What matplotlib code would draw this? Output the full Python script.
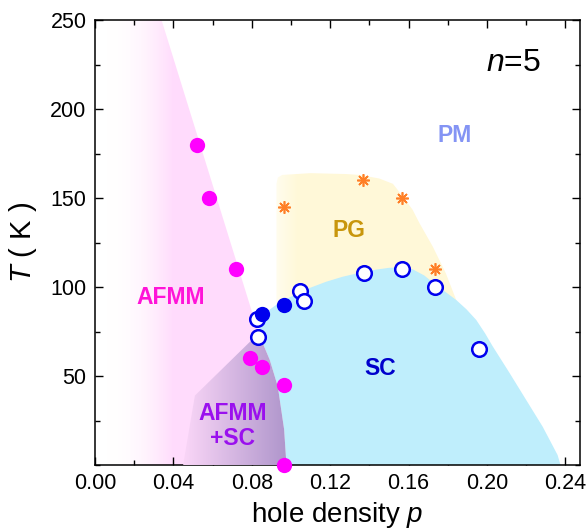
import numpy as np
import matplotlib
matplotlib.use("Agg")
import matplotlib.pyplot as plt
from matplotlib.patches import Polygon
from matplotlib.ticker import MultipleLocator

plt.rcParams['font.family'] = ['Liberation Sans', 'DejaVu Sans']
plt.rcParams['mathtext.fontset'] = 'custom'
plt.rcParams['mathtext.it'] = 'Liberation Sans:italic'
plt.rcParams['mathtext.rm'] = 'Liberation Sans'

# measured points
afm_p = [0.052, 0.058, 0.0718, 0.079, 0.085, 0.0963, 0.0965]
afm_T = [180, 150, 110, 60, 55, 45, 0]
sc_fill_p = [0.0853, 0.0965]
sc_fill_T = [85, 90]
sc_open_p = [0.0827, 0.083, 0.1048, 0.1065, 0.137, 0.1565, 0.1734, 0.196]
sc_open_T = [82, 72, 98, 92, 108, 110, 100, 65]
pg_p = [0.0965, 0.1367, 0.1566, 0.1736]
pg_T = [145, 160, 150, 110]

# phase boundaries (p, T)
afm_edge_p = [0.0, 0.0, 0.034, 0.0835, 0.0977]
afm_edge_T = [0, 250, 250, 74, 0]
mix_edge_p = [0.045, 0.051, 0.0835, 0.0850, 0.0892, 0.0933, 0.0965, 0.0977]
mix_edge_T = [0, 39, 74, 70, 59, 44, 20, 0]
sc_edge_p = [0.0977, 0.0965, 0.0933, 0.0892, 0.0850, 0.0840, 0.0855, 0.0875, 0.095,
             0.1028, 0.1096, 0.118, 0.1264, 0.135, 0.1435, 0.150, 0.156, 0.162,
             0.168, 0.1724, 0.1785, 0.1843, 0.1895, 0.1945, 0.199, 0.203, 0.2115,
             0.22, 0.2284, 0.236, 0.2375]
sc_edge_T = [0, 20, 44, 59, 70, 77, 82, 86, 92, 96, 99.5, 103, 105.8, 108, 109.8,
             110.8, 111, 110, 106.5, 102.5, 97.5, 92.7, 87.5, 81.5, 74, 66.5, 51.7,
             36.5, 21.5, 5.6, 0]
pg_edge_p = [0.0926, 0.0926, 0.0933, 0.0955, 0.11, 0.128, 0.135, 0.145, 0.152,
             0.157, 0.162, 0.1656, 0.1724, 0.179, 0.1843, 0.186, 0.15, 0.0926]
pg_edge_T = [85, 158, 161.5, 163, 164, 163.5, 163, 161, 158, 151, 143.5, 135.8,
             122.6, 107.7, 92.7, 85, 80, 85]

labels = ['PM', 'PG', 'AFMM', 'SC', 'AFMM\n+SC']
label_p = [0.1834, 0.1294, 0.0387, 0.1457, 0.0703]
label_T = [185, 132, 94, 54.5, 22]
label_c = ['#8494f4', '#c8960c', '#ff14d8', '#0000cc', '#9a10ee']

fig = plt.figure(figsize=(5.86, 5.29), dpi=100)
ax = fig.add_axes([0.162, 0.121, 0.828, 0.841])
ax.set_xlim(0, 0.2475)
ax.set_ylim(0, 250)


def grad_fill(ax, px, py, x0, x1, c0, c1, z):
    poly = Polygon(np.column_stack([px, py]), closed=True, facecolor='none',
                   edgecolor='none', transform=ax.transData)
    ax.add_patch(poly)
    xs = np.linspace(0, 0.2475, 600)
    f = np.clip((xs - x0) / (x1 - x0), 0, 1)[:, None]
    c0 = np.array(c0)
    c1 = np.array(c1)
    row = c0 + (c1 - c0) * f
    img = np.repeat(row[None, :, :], 2, axis=0)
    im = ax.imshow(img, extent=[0, 0.2475, 0, 250], aspect='auto',
                   origin='lower', zorder=z, interpolation='bilinear')
    im.set_clip_path(poly)


pink = (1.0, 0.86, 0.99, 1.0)
grad_fill(ax, afm_edge_p, afm_edge_T, 0.006, 0.040, (1, 1, 1, 0), pink, 1)
grad_fill(ax, pg_edge_p, pg_edge_T, 0.0926, 0.103, (1, 0.99, 0.93, 1.0),
          (1.0, 0.975, 0.85, 1.0), 1)
ax.fill(sc_edge_p, sc_edge_T, color='#bfeefc', lw=0, zorder=2)
grad_fill(ax, mix_edge_p, mix_edge_T, 0.045, 0.097, (0.98, 0.84, 0.97, 1.0),
          (0.69, 0.59, 0.80, 1.0), 3)

ax.plot(pg_p, pg_T, ls='none', marker=(8, 2, 0), ms=9, mew=1.2,
        color='#ff7f27', zorder=5)
ax.plot(sc_open_p, sc_open_T, ls='none', marker='o', ms=10.5, mew=1.8,
        mfc='white', mec='#0000ee', zorder=5)
ax.plot(sc_fill_p, sc_fill_T, ls='none', marker='o', ms=11, mew=0,
        color='#0000ee', zorder=6)
ax.plot(afm_p, afm_T, ls='none', marker='o', ms=11, mew=0,
        color='#ff00ff', zorder=6, clip_on=False)

for s, x, y, c in zip(labels, label_p, label_T, label_c):
    ax.text(x, y, s, color=c, fontsize=16.5, fontweight='bold',
            ha='center', va='center', zorder=7, linespacing=1.1)

ax.text(0.2135, 226, r'$n$=5', fontsize=23, ha='center', va='center')

ax.set_xticks(np.arange(0, 0.241, 0.04))
ax.set_xticklabels(['%.2f' % v for v in np.arange(0, 0.241, 0.04)])
ax.xaxis.set_minor_locator(MultipleLocator(0.02))
ax.set_yticks([50, 100, 150, 200, 250])
ax.yaxis.set_minor_locator(MultipleLocator(25))
ax.tick_params(which='both', direction='in', top=True, right=True,
               labelsize=15.5, width=1.0)
ax.tick_params(which='major', length=6, pad=6)
ax.tick_params(which='minor', length=3.5)
for sp in ax.spines.values():
    sp.set_linewidth(1.1)

ax.set_xlabel(r'hole density $p$', fontsize=20, labelpad=4)
ax.set_ylabel(r'$T$ ( K )', fontsize=21, labelpad=8)

fig.savefig('out.png', dpi=100)
